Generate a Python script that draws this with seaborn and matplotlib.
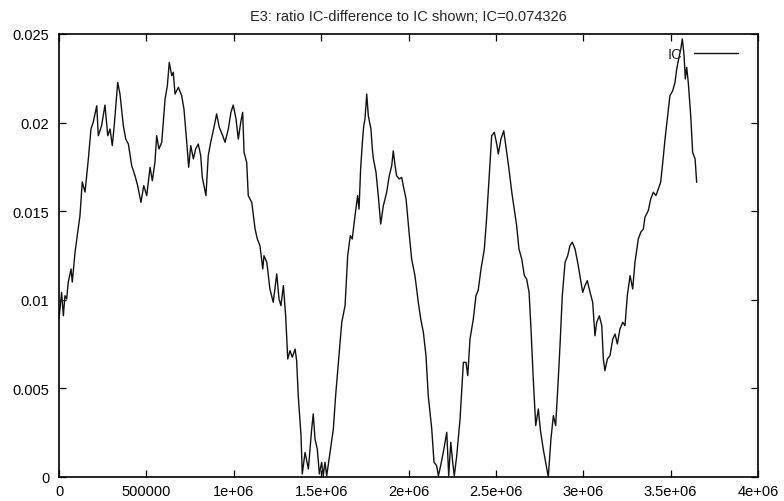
import pandas as pd
import seaborn as sns
import matplotlib.pyplot as plt

# positions along the sequence
position = [
    0, 15000, 25000, 34000, 44000, 53000, 69000, 76000, 92000, 110000, 120000, 133000, 149000, 168000, 183000, 196000,
    216000, 225000, 244000, 263000, 279000, 292000, 305000, 316000, 336000, 349000, 368000, 382000, 397000, 416000,
    435000, 450000, 469000, 485000, 502000, 521000, 534000, 549000, 559000, 572000, 588000,
    607000, 620000, 631000, 645000, 654000, 664000, 683000, 702000, 715000, 731000, 742000, 754000, 769000, 782000,
    797000, 811000, 820000, 841000, 854000, 868000, 887000, 902000, 917000, 937000, 950000, 969000, 984000, 997000,
    1013000, 1026000, 1040000, 1051000, 1059000, 1074000, 1083000, 1103000, 1122000, 1135000, 1150000, 1166000,
    1173000, 1189000,
    1207000, 1226000, 1246000, 1259000, 1270000, 1284000, 1297000, 1309000, 1322000, 1335000, 1351000, 1360000,
    1369000, 1385000, 1392000, 1408000, 1427000, 1446000, 1455000, 1465000, 1478000, 1490000, 1503000, 1512000,
    1522000, 1532000, 1551000, 1570000, 1583000, 1602000, 1618000, 1637000, 1652000, 1667000, 1678000, 1694000,
    1709000, 1717000, 1726000, 1736000, 1744000, 1751000, 1761000, 1770000, 1785000, 1793000,
    1799000, 1814000, 1827000, 1841000, 1856000, 1875000, 1890000, 1904000, 1913000, 1923000, 1932000, 1947000,
    1961000, 1970000, 1986000, 2005000, 2018000, 2037000, 2056000, 2070000, 2085000, 2100000, 2113000, 2133000,
    2146000, 2161000, 2171000, 2184000, 2199000, 2219000, 2230000, 2242000, 2253000, 2262000, 2276000, 2295000,
    2314000, 2329000, 2339000, 2352000, 2371000, 2386000, 2399000,
    2415000, 2434000, 2448000, 2461000, 2476000, 2491000, 2505000, 2514000, 2529000, 2545000, 2562000, 2575000,
    2591000, 2605000, 2619000, 2632000, 2648000, 2663000, 2676000, 2690000, 2701000, 2714000, 2728000, 2743000,
    2754000, 2771000, 2785000, 2800000, 2815000, 2829000, 2842000, 2854000, 2867000, 2880000, 2896000, 2911000,
    2924000, 2937000, 2953000, 2968000, 2981000, 2997000,
    3010000, 3023000, 3039000, 3054000, 3067000, 3077000, 3092000, 3106000, 3115000, 3124000, 3138000, 3153000,
    3169000, 3182000, 3195000, 3210000, 3226000, 3239000, 3252000, 3268000, 3283000, 3296000, 3315000, 3329000,
    3344000, 3353000, 3372000, 3386000, 3401000, 3416000, 3429000, 3443000, 3455000, 3468000, 3481000, 3496000,
    3512000, 3525000, 3535000, 3546000, 3558000, 3567000, 3577000, 3584000, 3592000, 3601000, 3615000, 3626000,
    3640000, 3649000,
]

# ratio IC-difference to IC
ic_ratio = [
    0.00892, 0.01042, 0.00910, 0.01023, 0.01005, 0.01100, 0.01174, 0.01100, 0.01270, 0.01400, 0.01475, 0.01665,
    0.01608, 0.01795, 0.01964, 0.02003, 0.02095, 0.01926, 0.01983, 0.02099, 0.01926, 0.01964, 0.01870, 0.01983,
    0.02227, 0.02161, 0.01983, 0.01907, 0.01879, 0.01757, 0.01700, 0.01644, 0.01550, 0.01644, 0.01588, 0.01748,
    0.01672, 0.01776, 0.01926, 0.01851, 0.01889,
    0.02133, 0.02208, 0.02340, 0.02265, 0.02284, 0.02161, 0.02199, 0.02152, 0.02077, 0.01889, 0.01748, 0.01870,
    0.01795, 0.01851, 0.01879, 0.01813, 0.01691, 0.01588, 0.01813, 0.01889, 0.01974, 0.02049, 0.01974, 0.01926,
    0.01889, 0.01964, 0.02058, 0.02099, 0.02020, 0.01907, 0.02002, 0.02058, 0.01832, 0.01776, 0.01588, 0.01550,
    0.01400, 0.01343, 0.01305, 0.01174, 0.01249, 0.01212,
    0.01061, 0.00986, 0.01146, 0.01005, 0.00967, 0.01080, 0.00910, 0.00666, 0.00713, 0.00676, 0.00722, 0.00656,
    0.00459, 0.00233, 0.00017, 0.00139, 0.00045, 0.00271, 0.00356, 0.00214, 0.00158, 0.00017, 0.00083, 0.00007,
    0.00083, 0.00007, 0.00139, 0.00271, 0.00459, 0.00685, 0.00873, 0.00967, 0.01249, 0.01362, 0.01343, 0.01475,
    0.01588, 0.01512, 0.01738, 0.01889, 0.01983, 0.02020, 0.02161, 0.02039, 0.01964, 0.01851,
    0.01795, 0.01720, 0.01588, 0.01428, 0.01531, 0.01607, 0.01700, 0.01757, 0.01841, 0.01757, 0.01700, 0.01682,
    0.01691, 0.01644, 0.01569, 0.01362, 0.01230, 0.01136, 0.00986, 0.00892, 0.00817, 0.00685, 0.00459, 0.00271,
    0.00083, 0.00064, 0.00007, 0.00064, 0.00139, 0.00252, 0.00007, 0.00196, 0.00083, 0.00007, 0.00120, 0.00327,
    0.00647, 0.00647, 0.00572, 0.00779, 0.00892, 0.01023, 0.01055,
    0.01174, 0.01287, 0.01475, 0.01682, 0.01926, 0.01945, 0.01879, 0.01823, 0.01907, 0.01954, 0.01832, 0.01738,
    0.01607, 0.01512, 0.01418, 0.01287, 0.01230, 0.01136, 0.01117, 0.01042, 0.00835, 0.00553, 0.00290, 0.00384,
    0.00271, 0.00158, 0.00083, 0.00000, 0.00214, 0.00346, 0.00290, 0.00497, 0.00741, 0.01023, 0.01212, 0.01249,
    0.01305, 0.01325, 0.01287, 0.01212, 0.01136, 0.01042,
    0.01080, 0.01108, 0.01042, 0.00986, 0.00797, 0.00873, 0.00910, 0.00854, 0.00666, 0.00600, 0.00666, 0.00685,
    0.00779, 0.00807, 0.00751, 0.00835, 0.00873, 0.00854, 0.01023, 0.01136, 0.01061, 0.01212, 0.01343, 0.01381,
    0.01400, 0.01466, 0.01503, 0.01569, 0.01607, 0.01588, 0.01625, 0.01663, 0.01776, 0.01907, 0.02020, 0.02152,
    0.02180, 0.02227, 0.02303, 0.02359, 0.02415, 0.02472, 0.02378, 0.02246, 0.02312, 0.02227, 0.02039, 0.01832,
    0.01795, 0.01663,
]

x_ticks = [0, 500000, 1000000, 1500000, 2000000, 2500000, 3000000, 3500000, 4000000]
x_labels = ["0", "500000", "1e+06", "1.5e+06", "2e+06", "2.5e+06", "3e+06", "3.5e+06", "4e+06"]
y_ticks = [0, 0.005, 0.01, 0.015, 0.02, 0.025]
y_labels = ["0", "0.005", "0.01", "0.015", "0.02", "0.025"]

df = pd.DataFrame({"position": position, "ratio": ic_ratio})

sns.set_style("white")
plt.rcParams["font.family"] = ["Liberation Sans", "DejaVu Sans"]

fig = plt.figure(figsize=(7.84, 5.02), dpi=100)
ax = fig.add_axes([59 / 784, 24 / 502, 699 / 784, 443 / 502])

sns.lineplot(data=df, x="position", y="ratio", ax=ax, color="#111111", linewidth=1.0,
             estimator=None, sort=False, label="IC")

ax.set_xlim(0, 4000000)
ax.set_ylim(0, 0.025)
ax.set_xticks(x_ticks)
ax.set_xticklabels(x_labels)
ax.set_yticks(y_ticks)
ax.set_yticklabels(y_labels)
ax.set_xlabel("")
ax.set_ylabel("")

for side in ["top", "bottom", "left", "right"]:
    ax.spines[side].set_visible(True)
    ax.spines[side].set_color("black")
    ax.spines[side].set_linewidth(1.2)

ax.tick_params(axis="both", direction="in", length=5, width=0.9, colors="black",
               labelsize=10.5, top=True, right=True, bottom=True, left=True)
ax.tick_params(axis="x", pad=5)
ax.tick_params(axis="y", pad=7)

ax.set_title("E3: ratio IC-difference to IC shown; IC=0.074326", fontsize=10.5, pad=10)

ax.legend(loc="upper right", bbox_to_anchor=(0.99, 1.0), frameon=False, markerfirst=False,
          handlelength=3.0, handletextpad=0.8, fontsize=10.5)

fig.savefig("out.png", dpi=100)
